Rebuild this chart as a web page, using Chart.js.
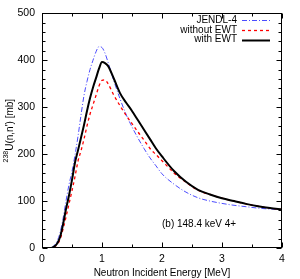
<!DOCTYPE html>
<html>
<head>
<meta charset="utf-8">
<script src="https://cdn.jsdelivr.net/npm/chart.js@4"></script>
<style>
  html, body { margin: 0; padding: 0; background: #fff; }
  #wrap { width: 300px; height: 279px; }
</style>
</head>
<body>
<div id="wrap"><canvas id="chart"></canvas></div>
<script>
// 238U inelastic cross section, 148.4 keV 4+ level
const energy = [0, 0.1, 0.15, 0.2, 0.25, 0.3, 0.35, 0.4, 0.45, 0.5, 0.55, 0.6, 0.65, 0.7, 0.75, 0.8, 0.85, 0.9, 0.95, 1.0,
  1.05, 1.1, 1.2, 1.3, 1.4, 1.5, 1.6, 1.7, 1.8, 1.9, 2.0, 2.2, 2.4, 2.6, 2.8, 3.0, 3.2, 3.4, 3.6, 3.8, 4.0];
const jendl = [0, 0, 0, 5, 14, 32, 62, 100, 135, 163, 198, 238, 283, 325, 355, 380, 400, 418, 429, 427,
  415, 396, 355, 318, 285, 258, 234, 212, 192, 175, 158, 136, 119, 107, 100, 95, 91, 88, 85, 83, 82];
const withoutEwt = [0, 0, 0, 2, 7, 18, 40, 66, 94, 122, 152, 185, 207, 232, 260, 285, 305, 325, 345, 357,
  358, 350, 325, 303, 283, 265, 247, 230, 212, 199, 186, 160, 140, 123, 114, 106, 100, 94, 89, 85, 82];
const withEwt = [0, 0, 0, 3, 9, 23, 50, 83, 112, 145, 182, 208, 235, 262, 292, 319, 342, 362, 382, 396,
  394, 388, 360, 330, 310, 292, 272, 252, 232, 212, 195, 164, 141, 124, 114, 106, 100, 94, 89, 85, 82];

const xMajor = [0, 1, 2, 3, 4];
const xMinor = [0.5, 1.5, 2.5, 3.5];
const yMajor = [0, 100, 200, 300, 400, 500];

const FONT = "'Liberation Sans', Arial, sans-serif";

const toPoints = vals => energy.map((e, i) => ({ x: e, y: vals[i] }));

// frame with inward ticks on all four sides
const frameTicks = {
  id: 'frameTicks',
  afterDatasetsDraw(chart) {
    const { ctx, chartArea: a, scales: { x, y } } = chart;
    ctx.save();
    ctx.strokeStyle = '#000';
    ctx.lineWidth = 1;
    const L = Math.round(a.left) + 0.5, R = Math.round(a.right) - 0.5;
    const T = Math.round(a.top) + 0.5, B = Math.round(a.bottom) - 0.5;
    ctx.strokeRect(L, T, R - L, B - T);
    ctx.beginPath();
    const xt = (v, len) => {
      const p = Math.round(x.getPixelForValue(v)) + 0.5;
      ctx.moveTo(p, B); ctx.lineTo(p, B - len);
      ctx.moveTo(p, T); ctx.lineTo(p, T + len);
    };
    const yt = (v, len) => {
      const p = Math.round(y.getPixelForValue(v)) + 0.5;
      ctx.moveTo(L, p); ctx.lineTo(L + len, p);
      ctx.moveTo(R, p); ctx.lineTo(R - len, p);
    };
    xMajor.forEach(v => xt(v, 5));
    xMinor.forEach(v => xt(v, 3));
    for (let v = 0; v <= 500; v += 20) yt(v, yMajor.includes(v) ? 5 : 3);
    ctx.stroke();
    ctx.restore();
  }
};

// legend in the upper right, text left of the line sample
const insideLegend = {
  id: 'insideLegend',
  afterDraw(chart) {
    const { ctx } = chart;
    ctx.save();
    ctx.font = '10px ' + FONT;
    ctx.textAlign = 'right';
    ctx.textBaseline = 'middle';
    chart.data.datasets.forEach((ds, i) => {
      const yy = 20 + i * 9.8;
      ctx.fillStyle = '#000';
      ctx.fillText(ds.label, 237, yy);
      ctx.beginPath();
      ctx.strokeStyle = ds.borderColor;
      ctx.lineWidth = ds.borderWidth;
      ctx.setLineDash(ds.borderDash || []);
      ctx.moveTo(242, Math.round(yy) + 0.5);
      ctx.lineTo(270, Math.round(yy) + 0.5);
      ctx.stroke();
    });
    ctx.setLineDash([]);
    // panel label
    ctx.textAlign = 'left';
    ctx.fillText('(b) 148.4 keV 4+', 162, 224);
    ctx.restore();
  }
};

// y title with superscript mass number
const yTitle = {
  id: 'yTitle',
  afterDraw(chart) {
    const { ctx, chartArea: a } = chart;
    ctx.save();
    ctx.translate(10.5, (a.top + a.bottom) / 2);
    ctx.rotate(-Math.PI / 2);
    ctx.fillStyle = '#000';
    ctx.textBaseline = 'middle';
    ctx.textAlign = 'left';
    const sup = '238', main = "U(n,n') [mb]";
    ctx.font = '7px ' + FONT;
    const ws = ctx.measureText(sup).width;
    ctx.font = '10px ' + FONT;
    const wm = ctx.measureText(main).width;
    const x0 = -(ws + wm) / 2;
    ctx.fillText(main, x0 + ws, 0);
    ctx.font = '7px ' + FONT;
    ctx.fillText(sup, x0, -4.5);
    ctx.restore();
  }
};

new Chart(document.getElementById('chart'), {
  type: 'line',
  data: {
    datasets: [
      {
        label: 'JENDL-4',
        data: toPoints(jendl),
        borderColor: '#4d4dff',
        borderWidth: 1,
        borderDash: [5, 2, 1, 2],
        cubicInterpolationMode: 'monotone',
        order: 3,
      },
      {
        label: 'without EWT',
        data: toPoints(withoutEwt),
        borderColor: '#ff0000',
        borderWidth: 1.3,
        borderDash: [3, 3],
        cubicInterpolationMode: 'monotone',
        order: 2,
      },
      {
        label: 'with EWT',
        data: toPoints(withEwt),
        borderColor: '#000000',
        borderWidth: 2,
        cubicInterpolationMode: 'monotone',
        order: 1,
      },
    ]
  },
  options: {
    responsive: true,
    maintainAspectRatio: false,
    animation: false,
    events: [],
    layout: { padding: { top: 11, right: 18, left: 0, bottom: 0 } },
    elements: { point: { radius: 0 } },
    scales: {
      x: {
        type: 'linear',
        min: 0,
        max: 4,
        grid: { display: false, drawTicks: false },
        border: { display: false },
        ticks: { stepSize: 1, padding: 5, color: '#000', font: { family: FONT, size: 10.5 } },
        title: {
          display: true,
          text: 'Neutron Incident Energy [MeV]',
          color: '#000',
          font: { family: FONT, size: 10 },
          padding: { top: 0, bottom: 0 },
        },
        afterFit: s => { s.height = 31; },
      },
      y: {
        min: 0,
        max: 500,
        grid: { display: false, drawTicks: false },
        border: { display: false },
        ticks: { stepSize: 100, padding: 7, color: '#000', font: { family: FONT, size: 10.5 } },
        afterFit: s => { s.width = 42; },
      },
    },
    plugins: {
      legend: { display: false },
      tooltip: { enabled: false },
    }
  },
  plugins: [frameTicks, insideLegend, yTitle]
});
</script>
</body>
</html>
